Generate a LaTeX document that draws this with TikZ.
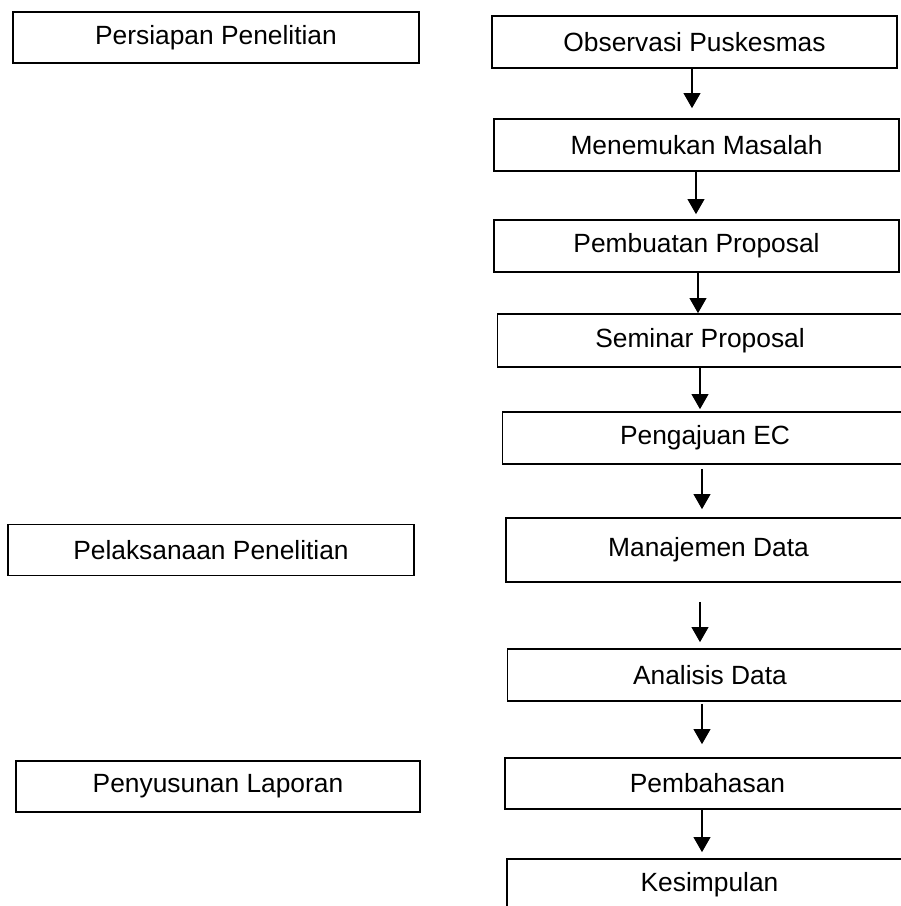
\documentclass[tikz,border=0pt]{standalone}
\usepackage{fontspec}
\setmainfont{Liberation Sans}
\usetikzlibrary{arrows.meta}

\begin{document}
\begin{tikzpicture}[
 x=0.02cm,y=-0.02cm,
 every node/.style={font=\fontsize{15}{18}\selectfont,align=center},
 stage/.style={draw,line width=0.9pt,minimum width=8.12cm,minimum height=1.02cm,inner sep=0pt},
 task/.style={draw,line width=0.9pt,minimum width=8.1cm,minimum height=1.04cm,inner sep=0pt},
 arrow/.style={-{Triangle[length=3mm,width=3.3mm]},line width=1.2pt}
]
\path[use as bounding box,clip] (0,0) rectangle (901,906);
% tahap penelitian
\node[stage] (siap) at (216,37.5) {Persiapan Penelitian};
\node[stage] (laks) at (211,550) {Pelaksanaan Penelitian};
\node[stage,minimum width=8.08cm] (lapor) at (218,786.5) {Penyusunan Laporan};
% alur kegiatan
\node[task] (obs) at (694.5,42) {Observasi Puskesmas};
\node[task] (msl) at (696.5,145) {Menemukan Masalah};
\node[task] (prop) at (696.5,246) {Pembuatan Proposal};
\node[task,minimum height=1.06cm] (sem) at (700,340.5) {Seminar Proposal};
\node[task] (ec) at (705,438) {Pengajuan EC};
\node[task,minimum height=1.28cm] (mnj) at (708.5,550) {Manajemen Data};
\node[task] (anl) at (710,675) {Analisis Data};
\node[task,minimum height=1.02cm] (bhs) at (707.5,783.5) {Pembahasan};
\node[task] (simp) at (709.5,885) {Kesimpulan};
\draw[arrow,shorten >=2mm] (obs.south -| 692,0) -- (msl.north -| 692,0);
\draw[arrow,shorten >=1mm] (msl.south -| 696,0) -- (prop.north -| 696,0);
\draw[arrow] (prop.south -| 698,0) -- (sem.north -| 698,0);
\draw[arrow,shorten >=0.4mm] (sem.south -| 700,0) -- (ec.north -| 700,0);
\draw[arrow,shorten <=0.8mm,shorten >=1.6mm] (ec.south -| 702,0) -- (mnj.north -| 702,0);
\draw[arrow,shorten <=3.8mm,shorten >=1.2mm] (mnj.south -| 700,0) -- (anl.north -| 700,0);
\draw[arrow,shorten <=0.4mm,shorten >=2.6mm] (anl.south -| 702,0) -- (bhs.north -| 702,0);
\draw[arrow,shorten >=1.2mm] (bhs.south -| 702,0) -- (simp.north -| 702,0);
\end{tikzpicture}
\end{document}
